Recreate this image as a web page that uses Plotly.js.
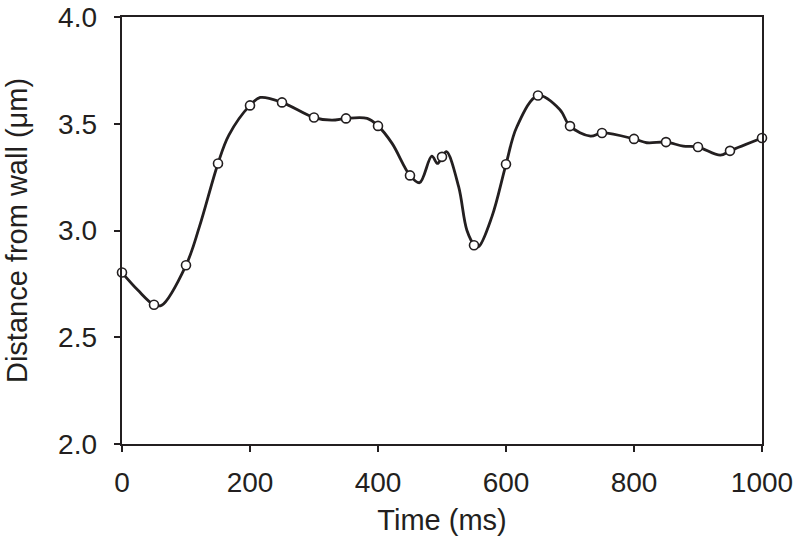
<!DOCTYPE html>
<html>
<head>
<meta charset="utf-8">
<script src="https://cdn.plot.ly/plotly-3.0.1.min.js"></script>
<style>html,body{margin:0;padding:0;background:#fff;}#chart{width:800px;height:545px;}</style>
</head>
<body>
<div id="chart"></div>
<script>
// Sampled points (open circles)
const sampleTime = [0, 50, 100, 150, 200, 250, 300, 350, 400, 450, 500, 550, 600, 650, 700, 750, 800, 850, 900, 950, 1000];
const sampleDist = [2.803, 2.652, 2.837, 3.314, 3.586, 3.600, 3.529, 3.525, 3.490, 3.258, 3.345, 2.931, 3.310, 3.632, 3.489, 3.457, 3.429, 3.414, 3.391, 3.373, 3.433];

// Continuous trace
const curveTime = [0, 25, 50, 62, 100, 121, 150, 167, 200, 216, 250, 300, 328, 350, 383, 400, 422, 450, 465, 484, 493, 500, 507, 526, 539, 551, 557, 578, 600, 617, 650, 684, 700, 732, 750, 800, 820, 850, 877, 900, 935, 950, 1000];
const curveDist = [2.803, 2.720, 2.652, 2.650, 2.837, 3.018, 3.314, 3.447, 3.586, 3.623, 3.600, 3.529, 3.517, 3.525, 3.525, 3.490, 3.408, 3.258, 3.224, 3.348, 3.314, 3.345, 3.369, 3.205, 3.000, 2.931, 2.924, 3.065, 3.310, 3.486, 3.632, 3.567, 3.489, 3.442, 3.457, 3.429, 3.411, 3.414, 3.395, 3.391, 3.353, 3.373, 3.433];

const xTicks = [0, 200, 400, 600, 800, 1000];
const yTicks = [2.0, 2.5, 3.0, 3.5, 4.0];

const ink = '#231f20';
const font = '"Liberation Sans", Arial, sans-serif';

const traces = [
  {
    x: curveTime, y: curveDist, type: 'scatter', mode: 'lines',
    line: {color: ink, width: 2.8, shape: 'spline', smoothing: 1},
    hoverinfo: 'skip', showlegend: false
  },
  {
    x: sampleTime, y: sampleDist, type: 'scatter', mode: 'markers',
    marker: {symbol: 'circle', size: 9, color: '#ffffff', line: {color: ink, width: 1.6}},
    showlegend: false, cliponaxis: false
  }
];

const layout = {
  width: 800, height: 545,
  margin: {l: 122, r: 38, t: 17, b: 101},
  paper_bgcolor: '#ffffff', plot_bgcolor: '#ffffff',
  showlegend: false,
  xaxis: {
    range: [0, 1000], tickvals: xTicks, ticktext: xTicks.map(String),
    showgrid: false, zeroline: false,
    showline: true, linecolor: ink, linewidth: 2.4, mirror: true,
    ticks: 'outside', ticklen: 6, tickwidth: 2, tickcolor: ink,
    ticklabelstandoff: 6,
    tickfont: {family: font, size: 28, color: ink},
    title: {text: 'Time (ms)', standoff: 13,
      font: {family: font, size: 29, color: ink}}
  },
  yaxis: {
    range: [2.0, 4.0], tickvals: yTicks, ticktext: yTicks.map(v => v.toFixed(1)),
    showgrid: false, zeroline: false,
    showline: true, linecolor: ink, linewidth: 2.4, mirror: true,
    ticks: 'outside', ticklen: 6, tickwidth: 2, tickcolor: ink,
    ticklabelstandoff: 11,
    tickfont: {family: font, size: 28, color: ink},
    title: {text: 'Distance from wall (μm)', standoff: 22,
      font: {family: font, size: 29, color: ink}}
  }
};

Plotly.newPlot('chart', traces, layout, {displayModeBar: false, staticPlot: true});
</script>
</body>
</html>
